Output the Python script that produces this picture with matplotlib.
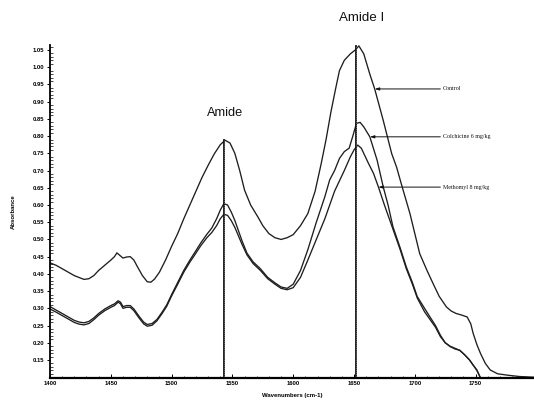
import matplotlib
matplotlib.use("Agg")
import matplotlib.pyplot as plt
from matplotlib.ticker import MultipleLocator, FixedLocator

# ---------------- data ----------------
control_wn = [1400, 1405, 1410, 1415, 1420, 1425, 1428, 1432, 1436, 1440, 1445, 1450, 1453, 1455,
              1457, 1460, 1463, 1466, 1469, 1472, 1476, 1480, 1483, 1486, 1490, 1495, 1500, 1505,
              1510, 1515, 1520, 1525, 1530, 1535, 1540, 1544, 1548, 1552, 1556, 1560, 1565, 1571,
              1575, 1580, 1585, 1590, 1595, 1600, 1606, 1612, 1618, 1623, 1627, 1631, 1635, 1638,
              1642, 1647, 1651, 1654, 1658, 1663, 1667, 1674, 1681, 1685, 1689, 1696, 1704, 1710,
              1715, 1720, 1726, 1730, 1734, 1738, 1743, 1746, 1748, 1751, 1754, 1758, 1762, 1768,
              1776, 1786, 1798]
control_abs = [0.432, 0.425, 0.415, 0.405, 0.395, 0.388, 0.384, 0.386, 0.395, 0.410, 0.425, 0.440,
               0.450, 0.461, 0.455, 0.446, 0.449, 0.450, 0.440, 0.420, 0.395, 0.377, 0.376, 0.385,
               0.405, 0.440, 0.480, 0.517, 0.560, 0.600, 0.640, 0.680, 0.715, 0.748, 0.775, 0.788,
               0.780, 0.750, 0.700, 0.643, 0.600, 0.565, 0.540, 0.517, 0.505, 0.500, 0.505, 0.514,
               0.540, 0.575, 0.640, 0.720, 0.790, 0.870, 0.940, 0.990, 1.020, 1.039, 1.050, 1.062,
               1.039, 0.980, 0.937, 0.846, 0.749, 0.710, 0.660, 0.575, 0.459, 0.410, 0.372, 0.335,
               0.304, 0.292, 0.285, 0.281, 0.275, 0.255, 0.227, 0.195, 0.169, 0.140, 0.121, 0.110,
               0.106, 0.102, 0.100]

colch_wn = [1400, 1405, 1410, 1415, 1420, 1424, 1428, 1432, 1436, 1440, 1445, 1450, 1453, 1456,
            1458, 1460, 1463, 1466, 1469, 1473, 1477, 1480, 1484, 1488, 1492, 1496, 1500, 1505,
            1510, 1515, 1519, 1524, 1529, 1533, 1537, 1540, 1543, 1546, 1549, 1552, 1555, 1558,
            1562, 1567, 1573, 1579, 1585, 1590, 1595, 1600, 1606, 1612, 1619, 1626, 1630, 1634,
            1638, 1642, 1646, 1649, 1652, 1655, 1658, 1663, 1669, 1674, 1678, 1682, 1688, 1693,
            1698, 1702, 1708, 1713, 1717, 1721, 1725, 1729, 1733, 1737, 1741, 1745, 1748, 1751,
            1754]
colch_abs = [0.305, 0.295, 0.285, 0.275, 0.265, 0.260, 0.258, 0.262, 0.272, 0.285, 0.298, 0.308,
             0.313, 0.322, 0.318, 0.305, 0.308, 0.308, 0.298, 0.278, 0.260, 0.253, 0.256, 0.268,
             0.288, 0.310, 0.340, 0.375, 0.410, 0.440, 0.462, 0.490, 0.515, 0.533, 0.560, 0.585,
             0.604, 0.600, 0.580, 0.555, 0.525, 0.495, 0.460, 0.435, 0.415, 0.390, 0.374, 0.362,
             0.358, 0.370, 0.410, 0.470, 0.550, 0.624, 0.673, 0.700, 0.735, 0.755, 0.765, 0.800,
             0.837, 0.840, 0.827, 0.798, 0.730, 0.653, 0.600, 0.537, 0.475, 0.420, 0.375, 0.334,
             0.300, 0.272, 0.250, 0.222, 0.200, 0.190, 0.184, 0.178, 0.165, 0.150, 0.135, 0.121,
             0.098]

meth_wn = [1400, 1405, 1410, 1415, 1420, 1424, 1428, 1432, 1436, 1440, 1445, 1450, 1453, 1456,
           1458, 1460, 1463, 1466, 1469, 1473, 1477, 1480, 1484, 1488, 1492, 1496, 1500, 1505,
           1510, 1515, 1519, 1524, 1529, 1533, 1537, 1540, 1543, 1546, 1549, 1552, 1555, 1558,
           1562, 1567, 1573, 1579, 1585, 1590, 1595, 1600, 1606, 1612, 1619, 1626, 1630, 1634,
           1638, 1642, 1647, 1650, 1653, 1656, 1658, 1662, 1666, 1670, 1675, 1682, 1688, 1693,
           1698, 1702, 1708, 1713, 1717, 1721, 1725, 1729, 1733, 1737, 1741, 1745, 1748, 1751,
           1754]
meth_abs = [0.298, 0.289, 0.279, 0.269, 0.259, 0.254, 0.252, 0.256, 0.267, 0.280, 0.293, 0.303,
            0.308, 0.318, 0.313, 0.300, 0.303, 0.303, 0.293, 0.273, 0.255, 0.248, 0.251, 0.264,
            0.284, 0.306, 0.336, 0.370, 0.405, 0.434, 0.455, 0.482, 0.505, 0.520, 0.540, 0.560,
            0.573, 0.570, 0.555, 0.535, 0.510, 0.485, 0.455, 0.430, 0.410, 0.386, 0.370, 0.358,
            0.354, 0.360, 0.390, 0.440, 0.500, 0.560, 0.600, 0.640, 0.670, 0.700, 0.740, 0.760,
            0.774, 0.765, 0.750, 0.720, 0.692, 0.653, 0.600, 0.530, 0.470, 0.415, 0.370, 0.330,
            0.290, 0.265, 0.245, 0.218, 0.200, 0.189, 0.182, 0.178, 0.165, 0.150, 0.135, 0.120,
            0.098]

series_names = ["Control", "Colchicine 6 mg/kg", "Methomyl 8 mg/kg"]
peak_labels = ["Amide", "Amide I"]
peak_wn = [1543, 1652]
peak_top = [0.79, 1.062]

x_ticks = [1400, 1450, 1500, 1550, 1600, 1650, 1700, 1750]
y_ticks = [0.15, 0.20, 0.25, 0.30, 0.35, 0.40, 0.45, 0.50, 0.55, 0.60, 0.65, 0.70, 0.75,
           0.80, 0.85, 0.90, 0.95, 1.00, 1.05]

# ---------------- figure ----------------
fig = plt.figure(figsize=(5.34, 4.0), dpi=100)
ax = fig.add_axes([50 / 534, 22 / 400, 484 / 534, 333 / 400])
ax.set_xlim(1400, 1798)
ax.set_ylim(0.0977, 1.0646)

line_color = "#1e1e1e"
for wn, ab in [(control_wn, control_abs), (colch_wn, colch_abs), (meth_wn, meth_abs)]:
    ax.plot(wn, ab, color=line_color, lw=0.95, solid_joinstyle="round", clip_on=True)

# vertical peak markers
for w, top in zip(peak_wn, peak_top):
    ax.plot([w, w], [0.0977, top], color="#111111", lw=1.3)
    ax.plot([w, w], [0.0977, top], color="white", lw=0.5, ls=(0, (0.6, 2.2)))

# peak labels
ax.text(1544, 0.868, peak_labels[0], ha="center", va="center",
        fontsize=9.2, family="Liberation Sans", color="#111111")
ax.text(1656, 1.142, peak_labels[1], ha="center", va="center",
        fontsize=9.6, family="Liberation Sans", color="#111111", clip_on=False)

# series annotations
ann = [(1667, 0.937), (1663, 0.798), (1670, 0.652)]
for name, (xa, ya) in zip(series_names, ann):
    ax.annotate("", xy=(xa, ya), xytext=(1721, ya),
                arrowprops=dict(arrowstyle="-|>,head_length=0.25,head_width=0.08",
                                lw=0.7, color="#111111", shrinkA=0, shrinkB=0))
    ax.text(1723, ya, name, ha="left", va="center", fontsize=4.3,
            family="Liberation Serif", color="#111111")

# axes styling
for s in ["top", "right"]:
    ax.spines[s].set_visible(False)
ax.spines["left"].set_linewidth(1.3)
ax.spines["bottom"].set_linewidth(1.6)

ax.xaxis.set_major_locator(FixedLocator(x_ticks))
ax.yaxis.set_major_locator(FixedLocator(y_ticks))
ax.xaxis.set_minor_locator(MultipleLocator(10))
ax.yaxis.set_minor_locator(MultipleLocator(0.01))
ax.set_xticklabels([str(t) for t in x_ticks])
ax.set_yticklabels(["%.2f" % t for t in y_ticks])
ax.tick_params(axis="y", which="major", direction="out", length=2.5, width=0.7, pad=1.5,
               labelsize=4.2)
ax.tick_params(axis="y", which="minor", direction="in", length=2, width=0.5)
ax.tick_params(axis="x", which="major", direction="in", length=3, width=0.7, pad=2,
               labelsize=4.2)
ax.tick_params(axis="x", which="minor", direction="in", length=1.5, width=0.5)
for lab in ax.get_xticklabels() + ax.get_yticklabels():
    lab.set_fontweight("bold")
    lab.set_family("Liberation Sans")

fig.text(292 / 534, 1 - 396 / 400, "Wavenumbers (cm-1)", ha="center", va="center",
         fontsize=4.3, fontweight="bold", family="Liberation Sans")
fig.text(13 / 534, 1 - 212 / 400, "Absorbance", ha="center", va="center", rotation=90,
         fontsize=4.3, fontweight="bold", family="Liberation Sans")

fig.savefig("out.png", dpi=100)
